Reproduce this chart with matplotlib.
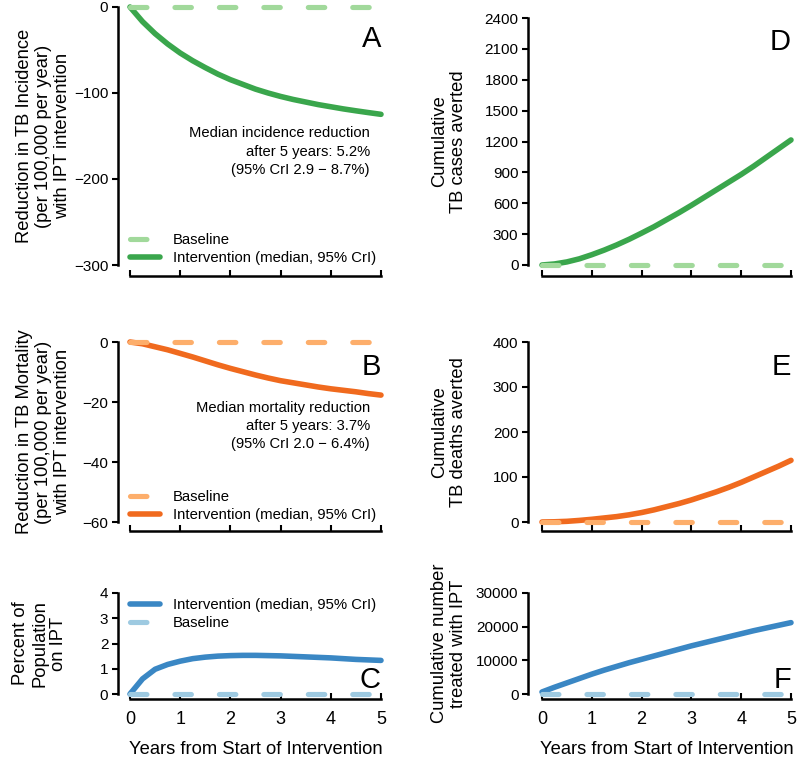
import matplotlib
matplotlib.use("Agg")
import matplotlib.pyplot as plt

plt.rcParams['font.family'] = ['Liberation Sans', 'DejaVu Sans']

years = [0, 0.25, 0.5, 0.75, 1, 1.25, 1.5, 1.75, 2, 2.25, 2.5, 2.75, 3,
         3.25, 3.5, 3.75, 4, 4.25, 4.5, 4.75, 5]
baseline = [0] * len(years)

incidence = [0, -17, -31, -43, -53.5, -62.5, -70.5, -78, -84.5, -90, -95.5, -100, -104,
             -107.5, -110.5, -113.5, -116, -118.5, -120.7, -122.8, -124.8]
mortality = [0, -0.6, -1.6, -2.6, -3.8, -5.0, -6.3, -7.6, -8.8, -9.9, -11.0, -12.0, -12.9,
             -13.6, -14.3, -15.0, -15.6, -16.1, -16.6, -17.2, -17.7]
pct_ipt = [0, 0.6, 0.98, 1.17, 1.3, 1.4, 1.46, 1.5, 1.52, 1.53, 1.53, 1.52, 1.51,
           1.49, 1.47, 1.45, 1.43, 1.4, 1.37, 1.35, 1.33]
cases_averted = [0, 10, 30, 60, 100, 145, 195, 250, 310, 372, 440, 508, 580,
                 655, 730, 805, 880, 960, 1045, 1130, 1215]
deaths_averted = [0, 0.5, 1.5, 3.5, 6, 9, 12, 16, 21, 27, 34, 41, 49,
                  58, 67, 77, 88, 100, 112, 124, 137]
treated = [600, 2000, 3300, 4600, 5900, 7100, 8200, 9300, 10300, 11300, 12300, 13300, 14300,
           15200, 16100, 17000, 17900, 18800, 19600, 20400, 21200]

xticks = [0, 1, 2, 3, 4, 5]
yticks_A = [0, -100, -200, -300]
yticks_B = [0, -20, -40, -60]
yticks_C = [0, 1, 2, 3, 4]
yticks_D = [0, 300, 600, 900, 1200, 1500, 1800, 2100, 2400]
yticks_E = [0, 100, 200, 300, 400]
yticks_F = [0, 10000, 20000, 30000]

green, lgreen = '#3aa64c', '#a1d99b'
orange, lorange = '#f06a1e', '#fdae6b'
blue, lblue = '#3a87c4', '#9ecae1'

W, H = 800, 758
fig = plt.figure(figsize=(8, 7.58), dpi=100)

def mk(l, r, t, b):
    return fig.add_axes([l / W, 1 - b / H, (r - l) / W, (b - t) / H])

def style(ax, yt, ylabel, lab_x, letter, letter_y, xoff, yoff, xlabels=False):
    ax.set_xlim(0, 5)
    ax.set_ylim(min(yt), max(yt))
    ax.set_yticks(yt)
    ax.set_xticks(xticks)
    for s in ['top', 'right']:
        ax.spines[s].set_visible(False)
    ax.spines['left'].set_position(('outward', yoff))
    ax.spines['bottom'].set_position(('outward', xoff))
    for s in ['left', 'bottom']:
        ax.spines[s].set_linewidth(1.8)
    ax.tick_params(axis='y', direction='out', length=4, width=1.5, labelsize=11, pad=3)
    ax.tick_params(axis='x', direction='in', length=4, width=1.5, labelsize=13, pad=9)
    if not xlabels:
        ax.set_xticklabels([])
    else:
        ax.set_xlabel('Years from Start of Intervention', fontsize=13.2, labelpad=9)
    ax.set_ylabel(ylabel, fontsize=13.2, linespacing=1.15)
    ax.yaxis.set_label_coords(lab_x, 0.5)
    ax.text(1.0, letter_y, letter, transform=ax.transAxes, ha='right', va='top', fontsize=21)
    ax.patch.set_visible(False)

def lines(ax, y, c, lc):
    li, = ax.plot(years, y, color=c, lw=4.0, solid_capstyle='round', solid_joinstyle='round',
                  clip_on=False, zorder=2, label='Intervention (median, 95% CrI)')
    lb, = ax.plot(years, baseline, color=lc, lw=3.7, dashes=(3.2, 5.45),
                  dash_capstyle='round', clip_on=False, zorder=3, label='Baseline')
    return lb, li

leg_kw = dict(frameon=False, fontsize=10.7, handlelength=2.0, handletextpad=0.9,
              labelspacing=0.25, borderaxespad=0.0, borderpad=0.0)

# Panel A
axA = mk(130, 381, 7, 265)
lb, li = lines(axA, incidence, green, lgreen)
style(axA, yticks_A, 'Reduction in TB Incidence\n(per 100,000 per year)\nwith IPT intervention',
      -0.235, 'A', 0.93, 8, 8.6)
axA.legend(handles=[lb, li], loc='lower left', bbox_to_anchor=(0.0, 0.0), **leg_kw)
axA.text(0.956, 0.439, 'Median incidence reduction\nafter 5 years: 5.2%\n(95% CrI 2.9 \u2212 8.7%)',
         transform=axA.transAxes, ha='right', va='center', fontsize=10.6, linespacing=1.4)

# Panel B
axB = mk(130, 381, 342, 522)
lb, li = lines(axB, mortality, orange, lorange)
style(axB, yticks_B, 'Reduction in TB Mortality\n(per 100,000 per year)\nwith IPT intervention',
      -0.235, 'B', 0.94, 6.5, 8.6)
axB.legend(handles=[lb, li], loc='lower left', bbox_to_anchor=(0.0, 0.0), **leg_kw)
axB.text(0.956, 0.533, 'Median mortality reduction\nafter 5 years: 3.7%\n(95% CrI 2.0 \u2212 6.4%)',
         transform=axB.transAxes, ha='right', va='center', fontsize=10.6, linespacing=1.4)

# Panel C
axC = mk(130, 381, 593, 694)
lb, li = lines(axC, pct_ipt, blue, lblue)
style(axC, yticks_C, 'Percent of\nPopulation\non IPT', -0.25, 'C', 0.28, 3.6, 8.6, xlabels=True)
axC.legend(handles=[li, lb], loc='upper left', bbox_to_anchor=(0.0, 0.95), **leg_kw)

# Panel D
axD = mk(542, 791, 18, 265)
lines(axD, cases_averted, green, lgreen)
style(axD, yticks_D, 'Cumulative\nTB cases averted', -0.30, 'D', 0.96, 8, 10)

# Panel E
axE = mk(542, 791, 342, 522)
lines(axE, deaths_averted, orange, lorange)
style(axE, yticks_E, 'Cumulative\nTB deaths averted', -0.30, 'E', 0.94, 6.5, 10)

# Panel F
axF = mk(542, 791, 593, 694)
lines(axF, treated, blue, lblue)
style(axF, yticks_F, 'Cumulative number\ntreated with IPT', -0.30, 'F', 0.28, 3.6, 10, xlabels=True)

fig.savefig('out.png', dpi=100)
